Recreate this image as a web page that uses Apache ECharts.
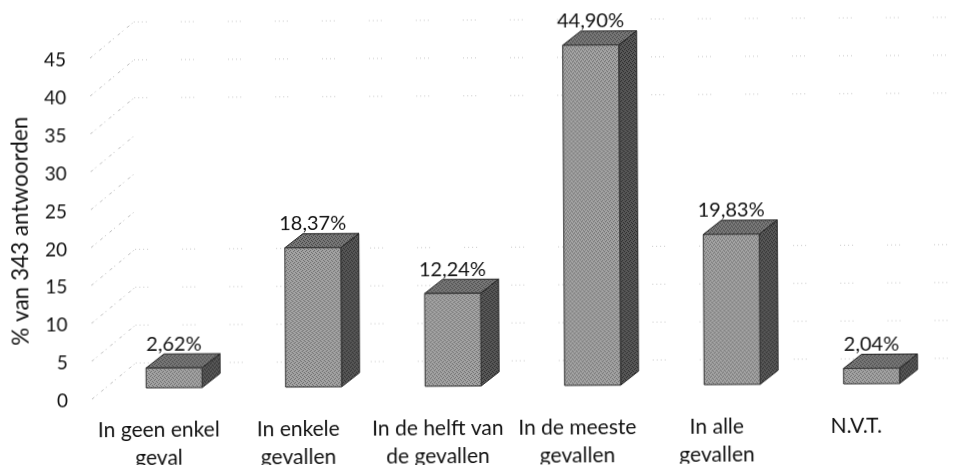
<!DOCTYPE html>
<html lang="en">
<head>
  <meta charset="UTF-8">
  <title>Antwoorden</title>
  <script src="https://cdn.jsdelivr.net/npm/echarts@6/dist/echarts.min.js"></script>
  <style>
    html, body { margin: 0; background: #fff; overflow: hidden; }
    /* the original is a slightly crooked scan */
    #main { width: 957px; height: 465px; transform: rotate(-0.33deg); }
  </style>
</head>
<body>
<div id="main"></div>
<script>
	var categories = ['In geen enkel\ngeval', 'In enkele\ngevallen', 'In de helft van\nde gevallen', 'In de meeste\ngevallen', 'In alle\ngevallen', 'N.V.T.']
	var percentages = [2.62, 18.37, 12.24, 44.90, 19.83, 2.04]
	var yTicks = [0, 5, 10, 15, 20, 25, 30, 35, 40, 45]
	var yTitle = '% van 343 antwoorden'

	var fontName = 'Lato'
	var textColor = '#111'

	// small repeating grain, looks like the halftone of the scan
	function grain(a, b) {
		var c = document.createElement('canvas')
		c.width = c.height = 4
		var ctx = c.getContext('2d')
		ctx.fillStyle = a
		ctx.fillRect(0, 0, 4, 4)
		ctx.fillStyle = b
		ctx.fillRect(0, 0, 1, 1)
		ctx.fillRect(2, 1, 1, 1)
		ctx.fillRect(1, 2, 1, 1)
		ctx.fillRect(3, 3, 1, 1)
		return { image: c, repeat: 'repeat' }
	}
	var frontFill = grain('#a4a4a4', '#6a6a6a')
	var topFill = grain('#787878', '#464646')
	var sideFill = grain('#585858', '#2a2a2a')

	function renderWall(params, api) {
		var sys = params.coordSys
		var v = api.value(1)
		var y = api.coord([0, v])[1]
		var fx = sys.x + 3, fy = y - 2, bx = sys.x + 47, by = y - 38
		var right = v === 20 || v === 25 || v === 30 ? bx : 957 // these hardly survived the scan
		return {
			type: 'group',
			children: [
				{ type: 'line', shape: { x1: fx, y1: fy, x2: bx, y2: by }, style: { stroke: '#bdbdbd', lineWidth: 1, lineDash: [3, 3, 1, 5] } },
				{ type: 'line', shape: { x1: bx, y1: by, x2: right, y2: by }, style: { stroke: '#c8c8c8', lineWidth: 1, lineDash: [1, 3, 1, 3, 1, 3, 1, 34] } }
			]
		}
	}

	function renderBar(params, api) {
		var dx = 15.5, dy = -13 // bars stand a bit inside the floor
		var w = 56, dw = 18, dd = -14
		var c = api.coord([api.value(0), 0])
		var t = api.coord([api.value(0), api.value(1)])
		var l = c[0] + dx - w / 2, r = l + w
		var b = c[1] + dy, h = t[1] + dy
		var edge = { stroke: '#222', lineWidth: 1 }
		return {
			type: 'group',
			children: [
				{ type: 'polygon', shape: { points: [[r, b], [r + dw, b + dd], [r + dw, h + dd], [r, h]] }, style: Object.assign({ fill: sideFill }, edge) },
				{ type: 'polygon', shape: { points: [[l, h], [l + dw, h + dd], [r + dw, h + dd], [r, h]] }, style: Object.assign({ fill: topFill }, edge) },
				{ type: 'rect', shape: { x: l, y: h, width: w, height: b - h }, style: { fill: frontFill, stroke: '#333', lineWidth: 1 } },
				{
					type: 'text',
					x: l + w / 2,
					y: h + dd - 10,
					style: {
						text: api.value(1).toFixed(2).replace('.', ',') + '%',
						font: '20px ' + fontName,
						fill: textColor,
						align: 'center',
						verticalAlign: 'middle'
					}
				}
			]
		}
	}

	var myChart = echarts.init(document.getElementById('main'), null, { renderer: 'canvas' })
	var option = {
		animation: false,
		backgroundColor: '#fff',
		grid: { left: 88, top: 58, width: 837, height: 341, outerBoundsMode: 'none' },
		xAxis: {
			type: 'category',
			data: categories,
			axisLine: { show: false },
			axisTick: { show: false },
			axisLabel: {
				interval: 0,
				margin: 15,
				color: textColor,
				fontFamily: fontName,
				fontSize: 21,
				lineHeight: 28
			}
		},
		yAxis: {
			type: 'value',
			min: 0,
			max: 45,
			interval: 5,
			name: yTitle,
			nameLocation: 'middle',
			nameGap: 56,
			nameTextStyle: { color: textColor, fontFamily: fontName, fontSize: 22.5 },
			axisLine: { show: false },
			axisTick: { show: false },
			splitLine: { show: false },
			axisLabel: { margin: 21, color: textColor, fontFamily: fontName, fontSize: 19 }
		},
		series: [
			{ type: 'custom', renderItem: renderWall, data: yTicks.map(function (v) { return [0, v] }), clip: false, silent: true },
			{ type: 'custom', renderItem: renderBar, data: percentages.map(function (v, i) { return [i, v] }), clip: false, silent: true }
		]
	}
	myChart.setOption(option)
</script>
</body>
</html>
